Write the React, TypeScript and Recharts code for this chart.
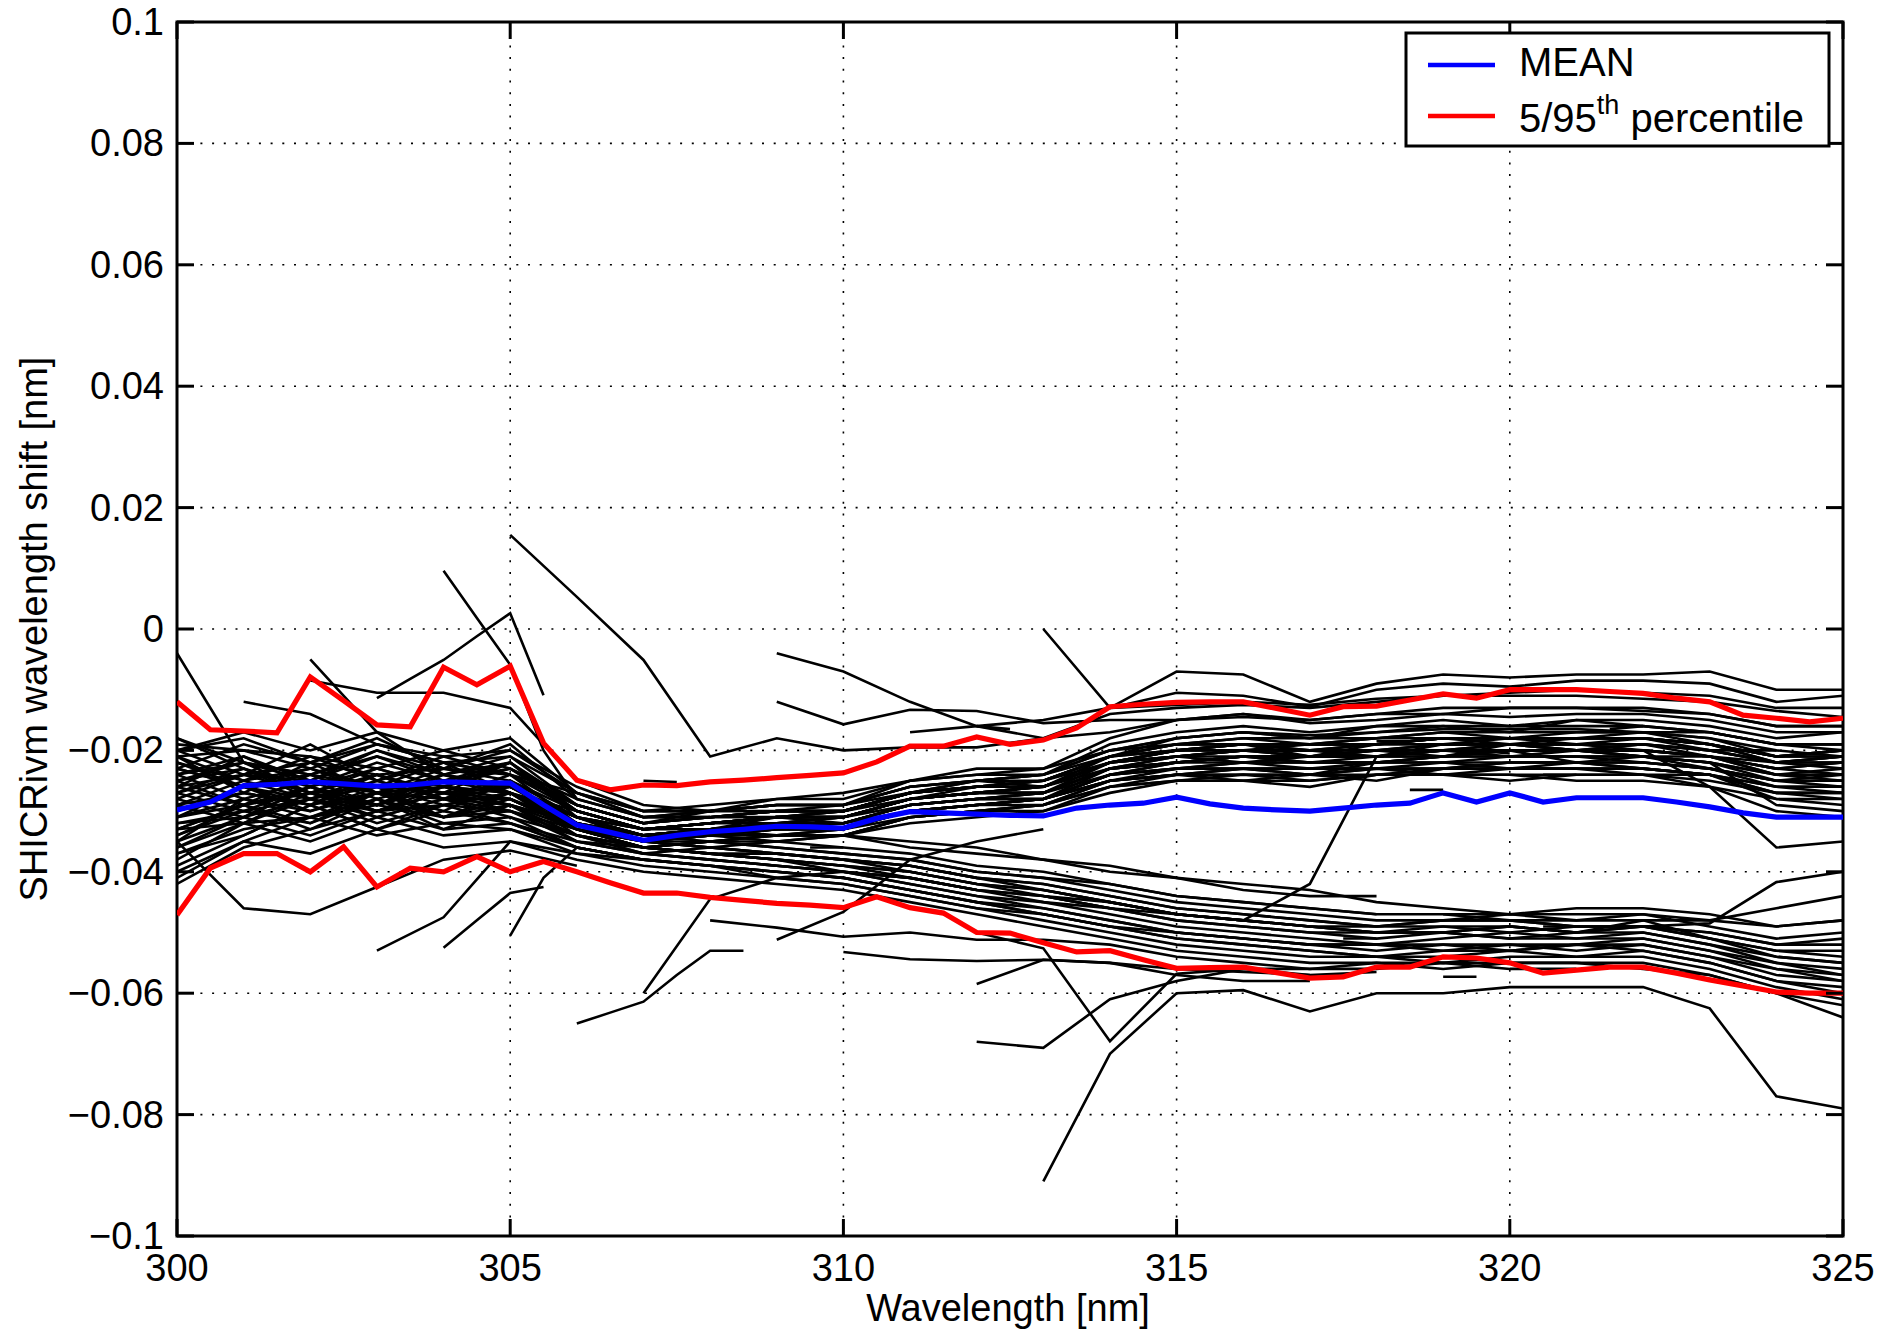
import { CartesianGrid, Line, LineChart, ReferenceArea, XAxis, YAxis } from "recharts";

const WIDTH = 1900;
const HEIGHT = 1335;
const PLOT = { left: 177, top: 22, right: 1843, bottom: 1236 };
const TICK_LEN = 17;
const FONT = '"Liberation Sans", Arial, Helvetica, sans-serif';
const FONT_SIZE = 38;
const LEGEND_FONT = 40;
const RUN_WIDTH = 2.6;
const STAT_WIDTH = 5.2;
const RUN_COLOR = "#000000";
const MEAN_COLOR = "#0000ff";
const PCT_COLOR = "#ff0000";
// all shift values below are in 1e-3 nm
const MILLI = 0.001;

const X_TICKS = [300, 305, 310, 315, 320, 325];
const Y_TICKS = [-0.1, -0.08, -0.06, -0.04, -0.02, 0, 0.02, 0.04, 0.06, 0.08, 0.1];

// wavelengths of the statistics curves (0.5 nm steps)
const WL_HALF = [
  300, 300.5, 301, 301.5, 302, 302.5, 303, 303.5, 304, 304.5, 305, 305.5, 306, 306.5, 307, 307.5, 308,
  308.5, 309, 309.5, 310, 310.5, 311, 311.5, 312, 312.5, 313, 313.5, 314, 314.5, 315, 315.5, 316, 316.5,
  317, 317.5, 318, 318.5, 319, 319.5, 320, 320.5, 321, 321.5, 322, 322.5, 323, 323.5, 324, 324.5, 325,
];

const MEAN_SHIFT = [
  -29.8, -28.5, -25.8, -25.6, -25.2, -25.5, -25.9, -25.7, -25.2, -25.3, -25.4,
  -29.0, -32.3, -33.5, -34.8, -34.0, -33.4, -33.0, -32.5, -32.6, -32.8,
  -31.2, -30.1, -30.3, -30.5, -30.7, -30.8, -29.5, -29.0, -28.7, -27.7,
  -28.8, -29.5, -29.8, -30.0, -29.5, -29.0, -28.7, -27.0, -28.5, -27.0,
  -28.5, -27.8, -27.8, -27.8, -28.5, -29.3, -30.3, -31.0, -31.0, -31.0,
];

const P95_SHIFT = [
  -12.0, -16.6, -16.8, -17.1, -7.9, -11.8, -15.8, -16.1, -6.3, -9.2, -6.1,
  -18.8, -24.9, -26.5, -25.7, -25.8, -25.2, -24.9, -24.5, -24.1, -23.7,
  -21.9, -19.3, -19.3, -17.8, -19.0, -18.3, -16.3, -12.8, -12.4, -12.1,
  -12.0, -12.0, -13.1, -14.2, -12.8, -12.7, -11.7, -10.7, -11.4, -10.0,
  -10.0, -10.0, -10.3, -10.6, -11.4, -12.0, -14.2, -14.7, -15.3, -14.7,
];

const P5_SHIFT = [
  -47.1, -39.4, -37.0, -37.0, -40.0, -35.9, -42.5, -39.4, -40.0, -37.5, -40.0,
  -38.3, -40.0, -41.8, -43.5, -43.5, -44.2, -44.7, -45.2, -45.5, -45.9,
  -44.1, -45.9, -46.8, -50.0, -50.1, -51.7, -53.2, -53.0, -54.5, -55.9,
  -55.8, -55.7, -56.6, -57.5, -57.3, -55.7, -55.7, -54.0, -54.2, -55.0,
  -56.7, -56.2, -55.7, -55.7, -56.7, -57.8, -58.8, -59.8, -60.0, -60.0,
];

// wavelengths of the individual retrievals (1 nm steps)
const WL_INT = [
  300, 301, 302, 303, 304, 305, 306, 307, 308, 309, 310, 311, 312, 313, 314, 315, 316, 317, 318, 319, 320,
  321, 322, 323, 324, 325,
];

// retrievals ending in the upper band
const UPPER_RUNS = [
  [-20, -24, -19, -25, -22, -21, -27, -30, -29, -28, -27, -25, -24, -23, -20, -18, -17, -18, -16, -16, -17, -15, -16, -17, -19, -19],
  [-24, -21, -26, -22, -25, -23, -29, -32, -30, -30, -30, -27, -25, -26, -21, -20, -19, -21, -19, -18, -19, -18, -17, -19, -21, -20],
  [-27, -23, -27, -29, -24, -26, -31, -33, -32, -31, -30, -28, -27, -27, -23, -21, -22, -21, -20, -21, -19, -20, -19, -21, -23, -22],
  [-31, -26, -29, -24, -28, -28, -32, -34, -33, -31, -32, -29, -28, -28, -24, -22, -21, -22, -22, -21, -20, -22, -21, -22, -24, -24],
  [-35, -28, -30, -27, -30, -25, -33, -35, -34, -33, -33, -30, -29, -28, -25, -23, -23, -24, -22, -22, -23, -22, -22, -23, -25, -25],
  [-38, -32, -27, -31, -28, -31, -34, -36, -35, -34, -33, -31, -30, -29, -26, -24, -25, -24, -23, -24, -23, -23, -24, -24, -26, -26],
  [-18, -22, -24, -20, -23, -19, -28, -31, -31, -30, -29, -26, -25, -25, -21, -19, -18, -19, -18, -17, -18, -17, -17, -18, -20, -21],
  [-21, -27, -22, -27, -23, -24, -30, -33, -32, -32, -31, -28, -27, -26, -22, -21, -20, -20, -21, -19, -19, -20, -19, -20, -22, -23],
  [-33, -29, -24, -26, -27, -22, -31, -34, -33, -32, -31, -29, -28, -27, -23, -22, -21, -22, -21, -21, -20, -20, -20, -21, -24, -23],
  [-40, -35, -31, -28, -33, -29, -35, -37, -36, -35, -34, -32, -31, -30, -27, -25, -25, -26, -24, -24, -25, -24, -24, -25, -27, -27],
  [-26, -29, -26, -30, -26, -28, -33, -35, -33, -33, -32, -30, -29, -28, -25, -24, -24, -24, -25, -23, -23, -23, -23, -24, -27, -28],
  [-23, -19, -22, -18, -23, -20, -26, -30, -30, -29, -29, -26, -25, -24, -19, -17, -16, -17, -16, -15, -16, -15, -15, -16, -18, -17],
  [-29, -25, -28, -24, -27, -26, -31, -34, -33, -32, -32, -29, -28, -27, -24, -23, -22, -22, -22, -22, -21, -21, -21, -23, -25, -26],
  [-36, -31, -26, -29, -26, -29, -32, -35, -34, -33, -33, -30, -29, -29, -25, -24, -23, -23, -23, -23, -22, -22, -23, -24, -26, -26],
  [-19, -20, -23, -19, -22, -24, -27, -31, -30, -29, -29, -25, -24, -24, -20, -18, -17, -18, -17, -16, -16, -16, -16, -17, -19, -20],
  [-25, -22, -27, -23, -26, -23, -30, -33, -32, -31, -31, -28, -26, -26, -22, -21, -20, -21, -20, -19, -19, -19, -19, -20, -22, -21],
  [-32, -31, -28, -30, -27, -30, -33, -35, -34, -33, -33, -30, -29, -28, -25, -24, -23, -24, -23, -23, -22, -22, -23, -24, -27, -27],
  [-28, -24, -25, -21, -24, -22, -30, -33, -32, -31, -30, -27, -26, -25, -21, -20, -19, -19, -19, -18, -18, -18, -18, -19, -21, -21],
  [-37, -34, -29, -33, -29, -32, -35, -36, -35, -35, -34, -31, -30, -30, -26, -25, -24, -25, -24, -24, -24, -24, -24, -26, -28, -29],
  [-22, -25, -21, -25, -21, -24, -29, -32, -31, -30, -30, -27, -26, -26, -22, -20, -20, -20, -20, -19, -19, -19, -19, -20, -22, -22],
  [-20, -18, -22, -19, -21, -20, -27, -30, -30, -28, -28, -25, -23, -23, -18, -15, -14, -15, -14, -13, -13, -13, -13, -14, -16, -16],
  [-30, -27, -29, -25, -28, -24, -32, -34, -33, -32, -32, -29, -28, -27, -23, -22, -21, -21, -21, -20, -20, -20, -21, -22, -29, -30],
  [-23, -26, -23, -26, -22, -27, -30, -33, -32, -31, -31, -28, -27, -27, -23, -21, -21, -21, -21, -20, -20, -20, -20, -26, -36, -35],
  [-26, -21, -25, -20, -24, -21, -29, -32, -31, -30, -30, -27, -26, -25, -22, -20, -19, -20, -19, -18, -18, -18, -18, -19, -21, -20],
  [-34, -30, -32, -28, -31, -27, -34, -36, -35, -34, -34, -31, -30, -29, -26, -25, -25, -25, -24, -24, -24, -25, -25, -26, -30, -31],
  [-20, -17, -20, -17, -20, -18, -27, -31, -30, -29, -29, -26, -25, -24, -20, -19, -18, -18, -18, -17, -17, -17, -17, -18, -21, -21],
  [-22, -26, -24, -28, -25, -26, -31, -34, -33, -32, -32, -29, -28, -28, -24, -23, -22, -23, -22, -21, -21, -21, -22, -23, -25, -25],
  [-27, -24, -22, -24, -23, -25, -30, -33, -32, -31, -31, -28, -27, -27, -22, -21, -20, -20, -20, -20, -19, -19, -20, -21, -23, -22],
  [-31, -29, -27, -26, -25, -26, -31, -34, -33, -32, -31, -28, -27, -26, -23, -22, -21, -21, -21, -20, -21, -20, -21, -22, -24, -24],
  [-18, -23, -26, -23, -26, -22, -29, -32, -31, -31, -30, -27, -26, -26, -22, -20, -19, -20, -19, -18, -18, -18, -18, -19, -22, -21],
  [-42, -36, -33, -30, -29, -27, -33, -35, -34, -34, -33, -30, -29, -28, -24, -22, -22, -22, -22, -21, -21, -21, -21, -22, -25, -24],
  [-25, -23, -28, -26, -29, -27, -32, -35, -34, -33, -33, -30, -29, -28, -24, -23, -23, -23, -23, -22, -22, -22, -22, -23, -26, -27],
  [-21, -20, -21, -23, -20, -23, -28, -31, -31, -30, -30, -27, -26, -25, -21, -19, -19, -19, -19, -18, -18, -18, -18, -19, -21, -20],
  [-33, -32, -31, -29, -31, -28, -33, -36, -35, -34, -34, -31, -30, -29, -25, -24, -24, -24, -24, -23, -23, -23, -23, -24, -28, -28],
  [-29, -27, -29, -27, -28, -29, -32, -34, -33, -32, -32, -29, -28, -28, -23, -22, -21, -21, -21, -21, -20, -20, -20, -21, -24, -25],
  [-24, -22, -24, -21, -25, -22, -30, -33, -32, -31, -31, -28, -27, -26, -22, -20, -20, -19, -19, -19, -18, -19, -18, -19, -22, -22],
];

// retrievals drifting into the lower band
const LOWER_RUNS = [
  [-30, -26, -30, -26, -31, -28, -33, -36, -37, -38, -39, -40, -42, -43, -45, -47, -48, -49, -50, -50, -51, -50, -49, -51, -53, -54],
  [-24, -28, -25, -29, -25, -27, -32, -35, -36, -37, -38, -39, -41, -42, -44, -46, -47, -48, -49, -48, -48, -49, -49, -50, -52, -52],
  [-34, -29, -32, -27, -31, -30, -35, -37, -38, -39, -40, -42, -44, -45, -47, -49, -50, -51, -52, -51, -50, -51, -51, -53, -56, -57],
  [-39, -34, -29, -33, -30, -32, -36, -38, -39, -40, -41, -43, -45, -46, -48, -50, -51, -52, -52, -53, -52, -53, -52, -54, -57, -58],
  [-27, -30, -26, -30, -27, -29, -33, -36, -37, -37, -38, -40, -42, -43, -45, -47, -48, -49, -50, -49, -49, -50, -48, -51, -54, -55],
  [-21, -25, -23, -27, -24, -26, -31, -34, -35, -36, -37, -38, -40, -41, -43, -45, -46, -47, -48, -48, -47, -48, -47, -49, -51, -50],
  [-33, -29, -33, -28, -32, -31, -36, -38, -39, -41, -42, -44, -46, -47, -49, -51, -52, -53, -54, -53, -53, -52, -53, -55, -58, -59],
  [-29, -32, -28, -32, -29, -30, -34, -37, -38, -39, -40, -41, -43, -45, -46, -48, -49, -50, -51, -50, -51, -51, -50, -52, -55, -56],
  [-36, -32, -35, -31, -34, -33, -37, -39, -40, -41, -42, -44, -46, -48, -50, -52, -53, -54, -54, -55, -54, -54, -54, -56, -59, -61],
  [-25, -29, -27, -30, -27, -28, -33, -36, -37, -38, -39, -41, -43, -44, -46, -48, -49, -50, -50, -50, -49, -50, -50, -52, -54, -55],
  [-41, -35, -37, -33, -36, -35, -38, -40, -41, -42, -43, -45, -47, -49, -51, -53, -54, -55, -55, -56, -55, -55, -55, -57, -60, -62],
  [-31, -28, -31, -27, -31, -29, -34, -36, -37, -38, -39, -40, -42, -44, -45, -47, -48, -49, -49, -48, -48, -48, -48, -48, -46, -44],
  [-28, -31, -26, -29, -26, -27, -32, -35, -36, -37, -38, -39, -41, -42, -44, -46, -47, -48, -49, -49, -50, -49, -49, -50, -52, -51],
  [-32, -30, -28, -31, -28, -30, -34, -37, -38, -39, -40, -42, -44, -46, -48, -50, -51, -52, -53, -52, -52, -52, -51, -53, -55, -57],
  [-26, -24, -27, -24, -28, -25, -31, -35, -36, -37, -38, -39, -41, -43, -45, -47, -48, -49, -50, -50, -49, -50, -49, -51, -53, -53],
  [-37, -33, -31, -34, -32, -33, -36, -38, -39, -40, -41, -43, -45, -47, -49, -51, -52, -53, -54, -54, -53, -54, -53, -55, -58, -60],
  [-23, -26, -28, -25, -28, -26, -32, -35, -35, -36, -37, -38, -40, -41, -42, -44, -45, -46, -47, -47, -47, -46, -46, -47, -49, -48],
  [-35, -31, -34, -30, -33, -32, -36, -38, -39, -40, -41, -43, -45, -47, -49, -50, -51, -52, -52, -52, -53, -52, -52, -54, -56, -58],
];

type Run = { start: number; step: number; y: number[] };

// partial retrievals, outliers and short pieces
const PARTIAL_RUNS: Run[] = [
  { start: 305, step: 1, y: [15.5, 5.3, -5.1, -21, -18, -20, -19.5, -19.5, -18, -14, -13, -12.5, -13, -12, -11, -10.5, -10, -10.5, -11, -13, -13] },
  { start: 309, step: 1, y: [-4, -7, -12, -16, -18, -17, -15, -14.5, -15, -14, -14, -13, -13, -13.5, -14, -16, -16] },
  { start: 309, step: 1, y: [-12, -15.7, -13.3, -13.5, -15.5, -15, -15, -14, -15.5, -15, -14, -14.5, -14, -14, -15, -17, -17] },
  { start: 313, step: 1, y: [0, -13, -7, -7.5, -12, -9, -7.5, -8, -7.5, -7.5, -7, -10, -10] },
  { start: 314, step: 1, y: [-13, -10.5, -11, -12.8, -10, -9, -9.5, -8.5, -8.5, -9, -12, -11] },
  { start: 311, step: 1, y: [-17, -16, -15, -13, -12.5, -12, -12.5, -11.5, -11, -11, -11, -11.5, -12, -13.5, -14.5] },
  { start: 304, step: 0.5, y: [9.6, 1.8, -5.9, -20, -28] },
  { start: 303, step: 0.5, y: [-11.4, -8.2, -5.1, -1.2, 2.6, -10.9] },
  { start: 302, step: 1, y: [-5, -17, -24, -27, -33, -36, -37, -38, -40, -41, -43] },
  { start: 302, step: 1, y: [-8.5, -10.5, -10.5, -13, -25, -29, -30, -29, -29, -27, -25, -24, -21, -18, -17, -17.5, -17, -16.5, -16.5, -16.5, -17, -17, -19, -19] },
  { start: 300, step: 1, y: [-4, -22, -25, -27, -26, -27, -31, -33, -32, -31, -31, -28, -27, -26, -22, -21, -20, -21, -20, -20, -19, -20, -20, -21, -23, -24] },
  { start: 301, step: 1, y: [-12, -14, -19, -22, -24, -29, -32, -31, -30, -30, -27, -26, -25, -21, -19, -19, -19, -18, -18, -18, -18, -18, -20, -20] },
  { start: 300, step: 1, y: [-35, -46, -47, -42.5, -38, -36.5, -39] },
  { start: 303, step: 1, y: [-53, -47.5, -35, -37, -38] },
  { start: 304, step: 0.5, y: [-52.5, -48, -43.5, -42.5] },
  { start: 305, step: 0.5, y: [-50.5, -41, -36, -37] },
  { start: 306, step: 0.5, y: [-65, -63.2, -61.4, -57, -53, -53] },
  { start: 307, step: 1, y: [-60, -44.5, -41, -40, -41, -43, -44, -46] },
  { start: 308, step: 1, y: [-48, -49.2, -50.7, -50, -51.2, -51.2, -52, -54, -55, -56, -56, -55, -56, -56] },
  { start: 309, step: 1, y: [-51.2, -46.6, -38, -35, -33] },
  { start: 310, step: 1, y: [-53.2, -54.4, -54.7, -54.5, -55, -56, -56.5, -57, -56.5] },
  { start: 312, step: 1, y: [-58.5, -54.5, -55, -57, -58, -58] },
  { start: 312, step: 1, y: [-68, -69, -61, -58, -56, -56, -55, -55, -55, -55, -56, -57, -60, -64] },
  { start: 313, step: 1, y: [-91, -70, -60, -59.5, -63, -60, -60, -59, -59, -59, -62.5, -77, -79] },
  { start: 312, step: 1, y: [-50, -52.6, -67.9, -56.8, -56, -57] },
  { start: 306, step: 1, y: [-31, -33, -33, -34, -34, -35, -36, -38, -39, -41, -42, -43, -45, -46, -47, -47, -47, -48, -49, -48] },
  { start: 305, step: 1, y: [-27, -32, -34, -34, -35, -36, -37, -39, -40, -42, -44, -45, -46, -47] },
  { start: 310, step: 1, y: [-34, -36, -37, -38, -40, -41, -43, -44, -44] },
  { start: 313, step: 1, y: [-44, -46, -47, -48, -42, -21, -20, -20, -20, -21, -21, -22, -21] },
  { start: 319, step: 1, y: [-47, -48, -49, -49, -48.5, -41.7, -40] },
  { start: 307, step: 0.5, y: [-25, -25.2] },
  { start: 309.5, step: 0.5, y: [-36, -36] },
  { start: 312, step: 0.5, y: [-16, -16.5] },
  { start: 316, step: 0.5, y: [-22, -22] },
  { start: 318, step: 0.5, y: [-18.5, -18.5] },
  { start: 318.5, step: 0.5, y: [-26.5, -26.5] },
  { start: 319.5, step: 0.5, y: [-20, -20.5] },
  { start: 320.5, step: 0.5, y: [-24, -24] },
  { start: 321.5, step: 0.5, y: [-16.5, -16] },
  { start: 322, step: 0.5, y: [-21, -21.5] },
  { start: 317.5, step: 0.5, y: [-51, -51] },
  { start: 319, step: 0.5, y: [-57.3, -57.3] },
  { start: 320.5, step: 0.5, y: [-49, -49] },
];

type Pt = { x: number; y: number };

const onGrid = (xs: number[], ys: number[]): Pt[] => ys.map((v, i) => ({ x: xs[i], y: v * MILLI }));
const fromRun = (r: Run): Pt[] => r.y.map((v, i) => ({ x: r.start + i * r.step, y: v * MILLI }));

const blackSeries: Pt[][] = [
  ...UPPER_RUNS.map((ys) => onGrid(WL_INT, ys)),
  ...LOWER_RUNS.map((ys) => onGrid(WL_INT, ys)),
  ...PARTIAL_RUNS.map(fromRun),
];
const meanData = onGrid(WL_HALF, MEAN_SHIFT);
const p95Data = onGrid(WL_HALF, P95_SHIFT);
const p5Data = onGrid(WL_HALF, P5_SHIFT);

const fmtY = (v: number) => (v === 0 ? "0" : v < 0 ? "\u2212" + String(-v) : String(v));

// line widths forced by stroke colour, whatever the series wrapper does
const CSS = `
svg path.recharts-curve[stroke="${RUN_COLOR}"] { stroke-width: ${RUN_WIDTH}px !important; }
svg path.recharts-curve[stroke="${MEAN_COLOR}"],
svg path.recharts-curve[stroke="${PCT_COLOR}"] { stroke-width: ${STAT_WIDTH}px !important; }
`;

const XTick = (props: any) => {
  const { x, y, payload } = props;
  return (
    <g>
      <line x1={x} x2={x} y1={PLOT.bottom} y2={PLOT.bottom - TICK_LEN} stroke="#000" strokeWidth={3} />
      <line x1={x} x2={x} y1={PLOT.top} y2={PLOT.top + TICK_LEN} stroke="#000" strokeWidth={3} />
      <text x={x} y={y + 45} textAnchor="middle" fontSize={FONT_SIZE} fontFamily={FONT} fill="#000">
        {payload.value}
      </text>
    </g>
  );
};

const YTick = (props: any) => {
  const { x, y, payload } = props;
  return (
    <g>
      <line x1={PLOT.left} x2={PLOT.left + TICK_LEN} y1={y} y2={y} stroke="#000" strokeWidth={3} />
      <line x1={PLOT.right - TICK_LEN} x2={PLOT.right} y1={y} y2={y} stroke="#000" strokeWidth={3} />
      <text x={x - 13} y={y + 13} textAnchor="end" fontSize={FONT_SIZE} fontFamily={FONT} fill="#000">
        {fmtY(payload.value)}
      </text>
    </g>
  );
};

const Overlay = () => (
  <svg
    width={WIDTH}
    height={HEIGHT}
    style={{ position: "absolute", left: 0, top: 0, pointerEvents: "none" }}
    fontFamily={FONT}
  >
    <text x={1008} y={1321} textAnchor="middle" fontSize={FONT_SIZE}>
      Wavelength [nm]
    </text>
    <text transform="rotate(-90)" x={-629} y={47} textAnchor="middle" fontSize={FONT_SIZE}>
      SHICRivm wavelength shift [nm]
    </text>
    <rect x={1406} y={33} width={423} height={113} fill="#fff" stroke="#000" strokeWidth={3} />
    <line x1={1428} x2={1495} y1={65} y2={65} stroke={MEAN_COLOR} strokeWidth={4.6} />
    <text x={1519} y={76} fontSize={LEGEND_FONT}>
      MEAN
    </text>
    <line x1={1428} x2={1495} y1={116} y2={116} stroke={PCT_COLOR} strokeWidth={4.6} />
    <text x={1519} y={132} fontSize={LEGEND_FONT}>
      5/95
      <tspan dy={-18} fontSize={27}>
        th
      </tspan>
      <tspan dy={18} fontSize={LEGEND_FONT}>
        {" "}percentile
      </tspan>
    </text>
  </svg>
);

export default function App() {
  return (
    <div style={{ position: "absolute", left: 0, top: 0, width: WIDTH, height: HEIGHT, background: "#fff" }}>
      <style>{CSS}</style>
      <LineChart
        width={WIDTH}
        height={HEIGHT}
        margin={{ top: PLOT.top, right: WIDTH - PLOT.right, bottom: 0, left: 0 }}
      >
        <CartesianGrid stroke="#000" strokeWidth={1.6} strokeDasharray="2 9.7" />
        <XAxis
          type="number"
          dataKey="x"
          domain={[300, 325]}
          ticks={X_TICKS}
          interval={0}
          allowDataOverflow
          height={HEIGHT - PLOT.bottom}
          axisLine={false}
          tickLine={false}
          tickSize={0}
          tickMargin={0}
          tick={<XTick />}
        />
        <YAxis
          type="number"
          dataKey="y"
          domain={[-0.1, 0.1]}
          ticks={Y_TICKS}
          interval={0}
          allowDataOverflow
          width={PLOT.left}
          axisLine={false}
          tickLine={false}
          tickSize={0}
          tickMargin={0}
          tick={<YTick />}
        />
        {blackSeries.map((pts, i) => (
          <Line
            key={"b" + i}
            data={pts}
            dataKey="y"
            type="linear"
            stroke={RUN_COLOR}
            strokeWidth={RUN_WIDTH}
            dot={false}
            activeDot={false}
            legendType="none"
            isAnimationActive={false}
          />
        ))}
        <Line
          data={meanData}
          dataKey="y"
          name="MEAN"
          type="linear"
          stroke={MEAN_COLOR}
          strokeWidth={STAT_WIDTH}
          dot={false}
          activeDot={false}
          isAnimationActive={false}
        />
        <Line
          data={p95Data}
          dataKey="y"
          name="95th"
          type="linear"
          stroke={PCT_COLOR}
          strokeWidth={STAT_WIDTH}
          dot={false}
          activeDot={false}
          isAnimationActive={false}
        />
        <Line
          data={p5Data}
          dataKey="y"
          name="5th"
          type="linear"
          stroke={PCT_COLOR}
          strokeWidth={STAT_WIDTH}
          dot={false}
          activeDot={false}
          isAnimationActive={false}
        />
        <ReferenceArea
          x1={300}
          x2={325}
          y1={-0.1}
          y2={0.1}
          fill="none"
          stroke="#000"
          strokeWidth={3}
          ifOverflow="visible"
        />
      </LineChart>
      <Overlay />
    </div>
  );
}
